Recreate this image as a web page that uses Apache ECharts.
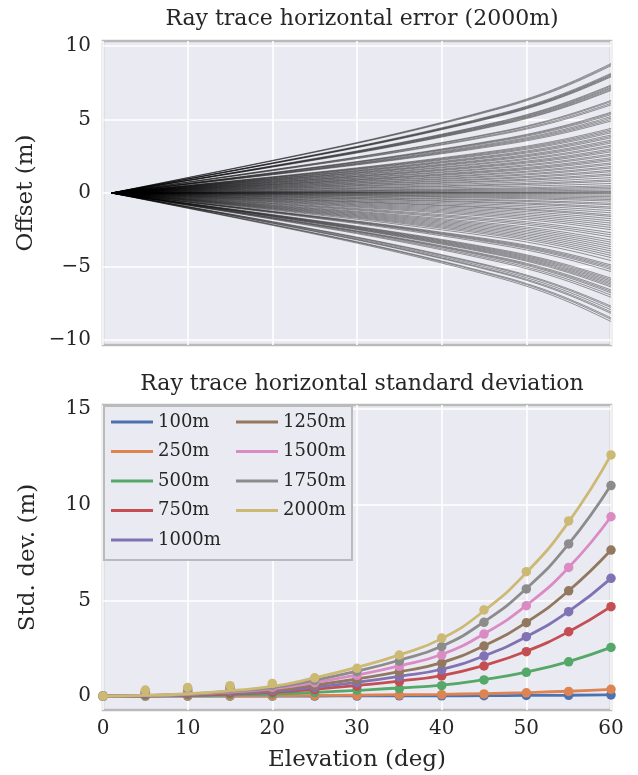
<!DOCTYPE html>
<html>
<head>
<meta charset="utf-8">
<script src="https://cdn.jsdelivr.net/npm/echarts@6/dist/echarts.min.js"></script>
<style>
  html, body { margin: 0; padding: 0; background: #ffffff; }
  #chart { width: 638px; height: 775px; }
</style>
</head>
<body>
<div id="chart"></div>
<script>
// ---- Top panel: ray trace horizontal error for the 2000 m case ----
// Elevation samples along each traced ray (deg)
const rayElev = [1, 5, 10, 15, 20, 25, 30, 35, 40, 45, 50, 55, 60];
// Growth of the offset along a ray, relative to its value at 60 deg
const rayShape = [0, 0.053, 0.119, 0.185, 0.252, 0.320, 0.390, 0.465, 0.545, 0.630, 0.725, 0.848, 1.0];
// Offset of every traced ray at 60 deg (m)
const rayEndOffsets = [
  8.82, 8.74, 8.66,
  8.15, 8.08, 8.02, 7.96, 7.90,
  7.35, 7.28, 7.20, 7.13, 7.05, 6.98,
  6.30, 6.22, 6.10, 6.00,
  5.50, 5.42, 5.33, 5.20, 5.10, 5.00, 4.90,
  4.40, 4.30, 4.20, 4.10, 3.95, 3.85, 3.75, 3.60, 3.50, 3.40,
  3.25, 3.15, 3.00, 2.90, 2.80, 2.65, 2.55, 2.40, 2.30, 2.20,
  2.05, 1.95, 1.80, 1.70, 1.55, 1.45, 1.30, 1.20, 1.05, 0.90,
  0.80, 0.65, 0.50, 0.40, 0.30, 0.20, 0.10, 0.05, 0.00,
  -0.05, -0.15, -0.25, -0.35, -0.45, -0.55, -0.70, -0.80, -0.95,
  -1.05, -1.20, -1.35, -1.50, -1.60, -1.75, -1.90, -2.05, -2.20,
  -2.35, -2.50, -2.70, -2.85, -3.00, -3.20, -3.35, -3.50, -3.65,
  -3.80, -3.95, -4.10, -4.25, -4.40, -4.60,
  -4.90, -5.00, -5.10, -5.20, -5.35,
  -5.80, -5.90, -6.00, -6.10, -6.20, -6.30, -6.40,
  -6.60, -6.70, -6.80, -6.95, -7.10,
  -7.70, -7.80, -7.95, -8.10, -8.20,
  -8.50, -8.60, -8.75
];
const offsetTicks = [-10, -5, 0, 5, 10];

// ---- Bottom panel: horizontal standard deviation per altitude ----
const elevation = [0, 5, 10, 15, 20, 25, 30, 35, 40, 45, 50, 55, 60];
const altitudes = ['100m', '250m', '500m', '750m', '1000m', '1250m', '1500m', '1750m', '2000m'];
const colors = ['#4C72B0', '#DD8452', '#55A868', '#C44E52', '#8172B3', '#937860', '#DA8BC3', '#8C8C8C', '#CCB974'];
// Measured standard deviation (m)
const measured100  = [0, 0, 0, 0, 0, 0, 0, 0.01, 0.01, 0.02, 0.03, 0.04, 0.06];
const measured250  = [0, 0, 0, 0.01, 0.01, 0.02, 0.03, 0.05, 0.07, 0.11, 0.17, 0.24, 0.35];
const measured500  = [0, 0.04, 0.06, 0.08, 0.11, 0.18, 0.31, 0.38, 0.54, 0.84, 1.24, 1.79, 2.54];
const measured750  = [0, 0.08, 0.12, 0.16, 0.20, 0.33, 0.52, 0.75, 1.05, 1.57, 2.32, 3.36, 4.67];
const measured1000 = [0, 0.12, 0.18, 0.24, 0.29, 0.45, 0.70, 1.00, 1.36, 2.09, 3.10, 4.41, 6.15];
const measured1250 = [0, 0.16, 0.24, 0.30, 0.37, 0.57, 0.87, 1.27, 1.71, 2.61, 3.83, 5.50, 7.63];
const measured1500 = [0, 0.20, 0.30, 0.38, 0.46, 0.70, 1.08, 1.55, 2.14, 3.24, 4.72, 6.72, 9.37];
const measured1750 = [0, 0.25, 0.37, 0.45, 0.55, 0.82, 1.28, 1.82, 2.58, 3.85, 5.60, 7.95, 11.0];
const measured2000 = [0, 0.31, 0.45, 0.54, 0.66, 0.95, 1.45, 2.14, 3.03, 4.50, 6.50, 9.15, 12.6];
// Fitted curves (m)
const fit100  = [0, 0, 0, 0, 0, 0, 0.01, 0.01, 0.01, 0.02, 0.03, 0.04, 0.06];
const fit250  = [0, 0, 0.01, 0.01, 0.02, 0.03, 0.05, 0.07, 0.09, 0.13, 0.18, 0.25, 0.35];
const fit500  = [0, 0.01, 0.02, 0.06, 0.10, 0.19, 0.30, 0.42, 0.57, 0.86, 1.25, 1.80, 2.54];
const fit750  = [0, 0.01, 0.04, 0.10, 0.19, 0.35, 0.55, 0.78, 1.07, 1.60, 2.34, 3.36, 4.67];
const fit1000 = [0, 0.01, 0.06, 0.14, 0.25, 0.46, 0.72, 1.03, 1.40, 2.10, 3.10, 4.42, 6.15];
const fit1250 = [0, 0.02, 0.07, 0.17, 0.30, 0.57, 0.89, 1.27, 1.75, 2.63, 3.85, 5.50, 7.63];
const fit1500 = [0, 0.02, 0.09, 0.21, 0.37, 0.70, 1.10, 1.58, 2.17, 3.25, 4.74, 6.72, 9.37];
const fit1750 = [0, 0.03, 0.10, 0.24, 0.44, 0.83, 1.30, 1.87, 2.60, 3.88, 5.62, 7.95, 11.03];
const fit2000 = [0, 0.03, 0.12, 0.28, 0.50, 0.95, 1.50, 2.15, 3.00, 4.45, 6.45, 9.10, 12.6];
const stdTicks = [0, 5, 10, 15];
const elevTicks = [0, 10, 20, 30, 40, 50, 60];

const measuredAll = [measured100, measured250, measured500, measured750, measured1000,
                     measured1250, measured1500, measured1750, measured2000];
const fitAll = [fit100, fit250, fit500, fit750, fit1000, fit1250, fit1500, fit1750, fit2000];

const FONT = 'DejaVu Serif';
const TEXT = '#262626';
const BG = '#EAEAF2';
const FRAME = '#BABABA';

const fmt = v => (v < 0 ? '\u2212' + Math.abs(v) : String(v));

const series = [];
rayEndOffsets.forEach(end => {
  series.push({
    type: 'line', xAxisIndex: 0, yAxisIndex: 0,
    data: rayElev.map((x, i) => [x, end * rayShape[i]]),
    smooth: 0.4, showSymbol: false, silent: true,
    lineStyle: { color: 'rgba(0,0,0,0.5)', width: 0.8 },
    z: 2
  });
});
altitudes.forEach((name, k) => {
  series.push({
    type: 'scatter', name: name + ' pts', xAxisIndex: 1, yAxisIndex: 1,
    data: elevation.map((x, i) => [x, measuredAll[k][i]]),
    symbolSize: 9.5, itemStyle: { color: colors[k], opacity: 1 },
    silent: true, z: 3 + k * 2
  });
  series.push({
    type: 'line', name: name, xAxisIndex: 1, yAxisIndex: 1,
    data: elevation.map((x, i) => [x, fitAll[k][i]]),
    smooth: 0.5, showSymbol: false, silent: true,
    lineStyle: { color: colors[k], width: 2.8 },
    itemStyle: { color: colors[k] },
    z: 4 + k * 2
  });
});

const legendCommon = {
  orient: 'vertical', itemWidth: 42, itemHeight: 3, itemGap: 7.5,
  icon: 'rect', selectedMode: false, padding: 0,
  textStyle: { fontFamily: FONT, fontSize: 18, color: TEXT, lineHeight: 22 },
  z: 20
};

const axisNameStyle = { fontFamily: FONT, fontSize: 23, color: TEXT };
const tickStyle = { fontFamily: FONT, fontSize: 20, color: TEXT };
const gridLine = { lineStyle: { color: '#ffffff', width: 1.6 } };

const option = {
  animation: false,
  backgroundColor: '#ffffff',
  title: [
    { text: 'Ray trace horizontal error (2000m)', left: 357, top: 3, textAlign: 'center',
      textStyle: { fontFamily: FONT, fontSize: 22, fontWeight: 'normal', color: TEXT } },
    { text: 'Ray trace horizontal standard deviation', left: 357, top: 368, textAlign: 'center',
      textStyle: { fontFamily: FONT, fontSize: 22, fontWeight: 'normal', color: TEXT } }
  ],
  grid: [
    { left: 103, top: 41, width: 508, height: 304, show: true, backgroundColor: BG,
      borderColor: FRAME, borderWidth: 2.5 },
    { left: 103, top: 405, width: 508, height: 305, show: true, backgroundColor: BG,
      borderColor: FRAME, borderWidth: 2.5 }
  ],
  xAxis: [
    { type: 'value', gridIndex: 0, min: 0, max: 60, interval: 10,
      axisLine: { show: false }, axisTick: { show: false }, axisLabel: { show: false },
      splitLine: gridLine },
    { type: 'value', gridIndex: 1, min: 0, max: 60, interval: 10,
      name: 'Elevation (deg)', nameLocation: 'middle', nameGap: 39,
      nameTextStyle: axisNameStyle,
      axisLine: { show: false }, axisTick: { show: false, customValues: elevTicks },
      axisLabel: Object.assign({ margin: 9, customValues: elevTicks }, tickStyle),
      splitLine: gridLine }
  ],
  yAxis: [
    { type: 'value', gridIndex: 0, min: -10.35, max: 10.35,
      name: 'Offset (m)', nameLocation: 'middle', nameGap: 63,
      nameTextStyle: axisNameStyle,
      axisLine: { show: false }, axisTick: { show: false, customValues: offsetTicks },
      axisLabel: Object.assign({ margin: 12, customValues: offsetTicks, formatter: fmt }, tickStyle),
      splitLine: gridLine },
    { type: 'value', gridIndex: 1, min: -0.73, max: 15.21,
      name: 'Std. dev. (m)', nameLocation: 'middle', nameGap: 63,
      nameTextStyle: axisNameStyle,
      axisLine: { show: false }, axisTick: { show: false, customValues: stdTicks },
      axisLabel: Object.assign({ margin: 12, customValues: stdTicks, formatter: fmt }, tickStyle),
      splitLine: gridLine }
  ],
  legend: [
    Object.assign({ left: 111, top: 411, data: altitudes.slice(0, 5) }, legendCommon),
    Object.assign({ left: 236, top: 411, data: altitudes.slice(5) }, legendCommon)
  ],
  graphic: [
    { type: 'rect', left: 103, top: 405, z: 15, silent: true,
      shape: { width: 248, height: 154 },
      style: { fill: BG, stroke: FRAME, lineWidth: 2 } }
  ],
  series: series
};

const chart = echarts.init(document.getElementById('chart'), null, { renderer: 'canvas' });
chart.setOption(option);
</script>
</body>
</html>
